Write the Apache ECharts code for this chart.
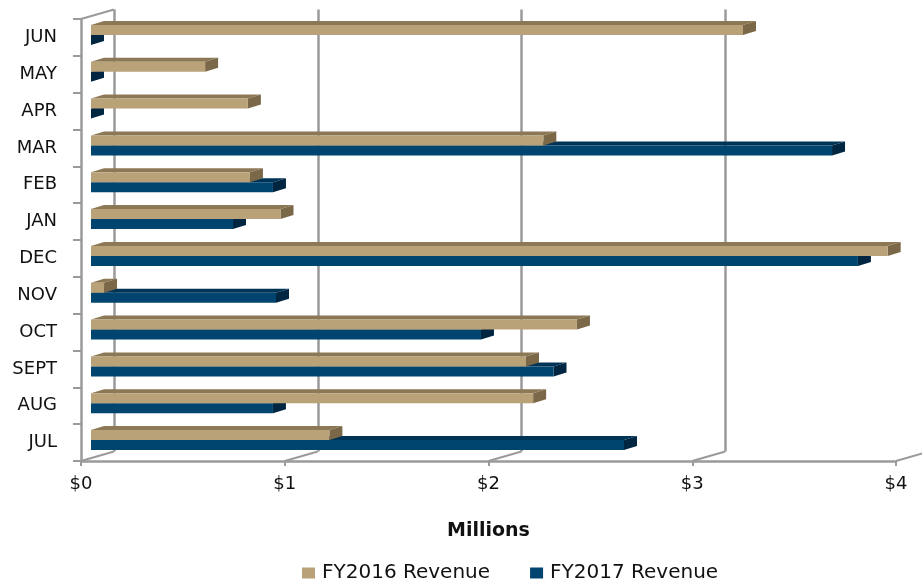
<!DOCTYPE html>
<html>
<head>
<meta charset="utf-8">
<style>html,body{margin:0;padding:0;background:#fff;}#chart{width:922px;height:580px;}</style>
<script src="https://cdn.jsdelivr.net/npm/echarts@6/dist/echarts.min.js"></script>
</head>
<body>
<div id="chart"></div>
<script>
var categories = ['JUL','AUG','SEPT','OCT','NOV','DEC','JAN','FEB','MAR','APR','MAY','JUN'];
var fy2016 = [1.17, 2.17, 2.135, 2.385, 0.064, 3.91, 0.93, 0.78, 2.22, 0.77, 0.56, 3.20];
var fy2017 = [2.616, 0.893, 2.27, 1.914, 0.908, 3.764, 0.697, 0.893, 3.637, 0, 0, 0];
var xTicks = [0, 1, 2, 3, 4];

var GRAY = '#9a9a9a';
var FONT = 'DejaVu Sans';
var DX = 13, DY = -4, H = 10;
var WALL_DX = 33, WALL_DY = -9.5;

function toData(arr){ return arr.map(function(v,i){ return [v, i]; }); }

function barRender(c, upper){
  return function(params, api){
    var v = api.value(0), ci = api.value(1);
    var p0 = api.coord([0, ci]), p1 = api.coord([v, ci]);
    var y0 = upper ? p0[1] - H : p0[1];
    var x0 = p0[0], x1 = p1[0];
    return {type:'group', children:[
      {type:'polygon', shape:{points:[[x0,y0],[x1,y0],[x1+DX,y0+DY],[x0+DX,y0+DY]]}, style:{fill:c.top}},
      {type:'polygon', shape:{points:[[x1,y0],[x1+DX,y0+DY],[x1+DX,y0+DY+H],[x1,y0+H]]}, style:{fill:c.side}},
      {type:'rect', shape:{x:x0,y:y0,width:Math.max(0,x1-x0),height:H}, style:{fill:c.front}}
    ]};
  };
}
var tan = {front:'#b9a278', top:'#8c7855', side:'#7a6848'};
var blue = {front:'#004470', top:'#003457', side:'#002642'};

var chart = echarts.init(document.getElementById('chart'), null, {renderer:'canvas'});
chart.setOption({
  backgroundColor:'#ffffff',
  animation:false,
  legend:{
    data:['FY2016 Revenue','FY2017 Revenue'],
    left:297, top:558, itemWidth:13, itemHeight:11, itemGap:40, icon:'rect',
    textStyle:{fontFamily:FONT, fontSize:20, color:'#111', padding:[0,0,0,2]}
  },
  grid:[
    {left:81, top:19, width:815, height:442},
    {left:114, top:9.5, width:611.25, height:442},
    {left:91, top:16.5, width:815, height:442}
  ],
  xAxis:[
    {gridIndex:0, type:'value', min:0, max:4, interval:1,
     axisLine:{show:true, lineStyle:{color:GRAY, width:2.5}},
     axisTick:{show:true, length:5, lineStyle:{color:GRAY, width:2}},
     axisLabel:{margin:14, fontFamily:FONT, fontSize:18, color:'#111', formatter:function(v){return '$'+v;}},
     splitLine:{show:false},
     name:'Millions', nameLocation:'middle', nameGap:61,
     nameTextStyle:{fontFamily:FONT, fontSize:19, fontWeight:'bold', color:'#111'}},
    {gridIndex:1, type:'value', min:0, max:3, interval:1,
     axisLine:{show:false}, axisTick:{show:false}, axisLabel:{show:false},
     splitLine:{show:true, lineStyle:{color:GRAY, width:2.5}}},
    {gridIndex:2, type:'value', min:0, max:4, interval:1, show:false, splitLine:{show:false}}
  ],
  yAxis:[
    {gridIndex:0, type:'category', data:categories,
     axisLine:{show:true, lineStyle:{color:GRAY, width:2.5}},
     axisTick:{show:true, length:8, lineStyle:{color:GRAY, width:2}},
     axisLabel:{margin:24, fontFamily:FONT, fontSize:18, color:'#111'}},
    {gridIndex:1, type:'category', data:categories, show:false},
    {gridIndex:2, type:'category', data:categories, show:false}
  ],
  series:[
    {type:'custom', name:'wall', xAxisIndex:0, yAxisIndex:0, silent:true, z:1,
     data:xTicks.map(function(v){return [v, 0];}),
     renderItem:function(params, api){
       var cs = params.coordSys;
       var x = api.coord([api.value(0), 0])[0];
       var yb = cs.y + cs.height;
       var ch = [{type:'line', shape:{x1:x, y1:yb, x2:x+WALL_DX, y2:yb+WALL_DY}, style:{stroke:GRAY, lineWidth:2}}];
       if (api.value(0) === 0) {
         ch.push({type:'line', shape:{x1:x, y1:cs.y, x2:x+WALL_DX, y2:cs.y+WALL_DY}, style:{stroke:GRAY, lineWidth:2}});
       }
       return {type:'group', children:ch};
     }},
    {type:'custom', name:'FY2017 Revenue', xAxisIndex:2, yAxisIndex:2, z:3,
     itemStyle:{color:blue.front}, encode:{x:0, y:1},
     data:toData(fy2017), renderItem:barRender(blue, false)},
    {type:'custom', name:'FY2016 Revenue', xAxisIndex:2, yAxisIndex:2, z:4,
     itemStyle:{color:tan.front}, encode:{x:0, y:1},
     data:toData(fy2016), renderItem:barRender(tan, true)}
  ]
});
</script>
</body>
</html>
